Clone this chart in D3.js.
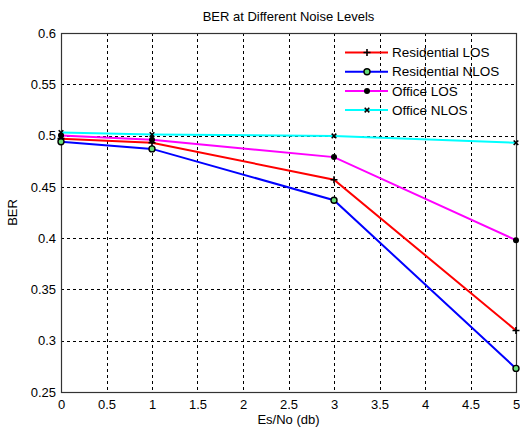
<!DOCTYPE html>
<html><head><meta charset="utf-8">
<script src="https://cdn.jsdelivr.net/npm/d3@7"></script>
<style>body{margin:0;background:#fff}svg{display:block}text{font-family:Arial,"Liberation Sans",sans-serif;fill:#000}</style>
</head><body>
<svg id="c" width="520" height="430"></svg>
<script>
const xValues = [0, 1, 3, 5];
const residentialLOS = [0.497, 0.493, 0.457, 0.310];
const residentialNLOS = [0.494, 0.487, 0.437, 0.273];
const officeLOS = [0.500, 0.496, 0.479, 0.398];
const officeNLOS = [0.503, 0.501, 0.4996, 0.493];
const seriesNames = ["Residential LOS", "Residential NLOS", "Office LOS", "Office NLOS"];
const xTicks = [0, 0.5, 1, 1.5, 2, 2.5, 3, 3.5, 4, 4.5, 5];
const yTicks = [0.25, 0.3, 0.35, 0.4, 0.45, 0.5, 0.55, 0.6];
const titleText = "BER at Different Noise Levels";
const xLabel = "Es/No (db)";
const yLabel = "BER";

const series = [
  {name: seriesNames[0], values: residentialLOS, color: "#ff0000", marker: "plus"},
  {name: seriesNames[1], values: residentialNLOS, color: "#0000ff", marker: "circle"},
  {name: seriesNames[2], values: officeLOS, color: "#ff00ff", marker: "dot"},
  {name: seriesNames[3], values: officeNLOS, color: "#00ffff", marker: "cross"}
];

const svg = d3.select("#c");
const L = 61, R = 516, T = 33, B = 392;
const x = d3.scaleLinear().domain([0, 5]).range([L, R]);
const y = d3.scaleLinear().domain([0.25, 0.6]).range([B, T]);

// grid
const g = svg.append("g");
g.selectAll(".vg").data(xTicks.slice(1, -1)).join("line")
  .attr("x1", d => Math.round(x(d)) + 0.5).attr("x2", d => Math.round(x(d)) + 0.5)
  .attr("y1", T).attr("y2", B).attr("stroke", "#000").attr("stroke-width", 1).attr("stroke-dasharray", "3,3");
g.selectAll(".hg").data(yTicks.slice(1, -1)).join("line")
  .attr("y1", d => Math.round(y(d)) + 0.5).attr("y2", d => Math.round(y(d)) + 0.5)
  .attr("x1", L).attr("x2", R).attr("stroke", "#000").attr("stroke-width", 1).attr("stroke-dasharray", "3,3");

// axes
const xAxis = d3.axisBottom(x).tickValues(xTicks).tickFormat(d3.format("~g")).tickSize(0).tickPadding(8);
const yAxis = d3.axisLeft(y).tickValues(yTicks).tickFormat(d3.format("~g")).tickSize(0).tickPadding(5);
const xa = svg.append("g").attr("transform", `translate(0,${B})`).call(xAxis);
const ya = svg.append("g").attr("transform", `translate(${L},0)`).call(yAxis);
[xa, ya].forEach(a => { a.select(".domain").remove(); a.selectAll("text").style("font-size", "13px").attr("fill", "#111"); });

// frame
svg.append("rect").attr("x", L + 0.5).attr("y", T + 0.5).attr("width", R - L).attr("height", B - T)
  .attr("fill", "none").attr("stroke", "#333").attr("stroke-width", 1.2);

// lines
const line = d3.line().x((d, i) => x(xValues[i])).y(d => y(d));
series.forEach(s => {
  svg.append("path").datum(s.values).attr("d", line).attr("fill", "none")
    .attr("stroke", s.color).attr("stroke-width", 2);
});

function drawMarker(sel, type, cx, cy) {
  const m = sel.append("g").attr("transform", `translate(${cx},${cy})`);
  if (type === "plus") {
    m.append("path").attr("d", "M-3.5,0H3.5M0,-3.5V3.5").attr("stroke", "#000").attr("stroke-width", 1.6).attr("fill", "none");
  } else if (type === "circle") {
    m.append("circle").attr("r", 3).attr("fill", "#66dd77").attr("stroke", "#000").attr("stroke-width", 1.4);
  } else if (type === "dot") {
    m.append("circle").attr("r", 3).attr("fill", "#000");
  } else {
    m.append("path").attr("d", "M-2.3,-2.3L2.3,2.3M-2.3,2.3L2.3,-2.3").attr("stroke", "#000").attr("stroke-width", 1.6).attr("fill", "none");
  }
}
series.forEach(s => {
  s.values.forEach((v, i) => drawMarker(svg, s.marker, x(xValues[i]), y(v)));
});

// legend
const lg = svg.append("g");
series.forEach((s, i) => {
  const ly = 52.5 + i * 19.2;
  lg.append("line").attr("x1", 345).attr("x2", 388).attr("y1", ly).attr("y2", ly).attr("stroke", s.color).attr("stroke-width", 2);
  drawMarker(lg, s.marker, 367, ly);
  lg.append("text").attr("x", 392).attr("y", ly).attr("dy", "0.35em").style("font-size", "13.5px").attr("fill", "#111").text(s.name);
});

// title & labels
svg.append("text").attr("x", (L + R) / 2).attr("y", 21).attr("text-anchor", "middle").style("font-size", "13px").attr("fill", "#111").text(titleText);
svg.append("text").attr("x", (L + R) / 2).attr("y", 424).attr("text-anchor", "middle").style("font-size", "13px").attr("fill", "#111").text(xLabel);
svg.append("text").attr("transform", `translate(17,${(T + B) / 2}) rotate(-90)`).attr("text-anchor", "middle").style("font-size", "13px").attr("fill", "#111").text(yLabel);
</script>
</body></html>
